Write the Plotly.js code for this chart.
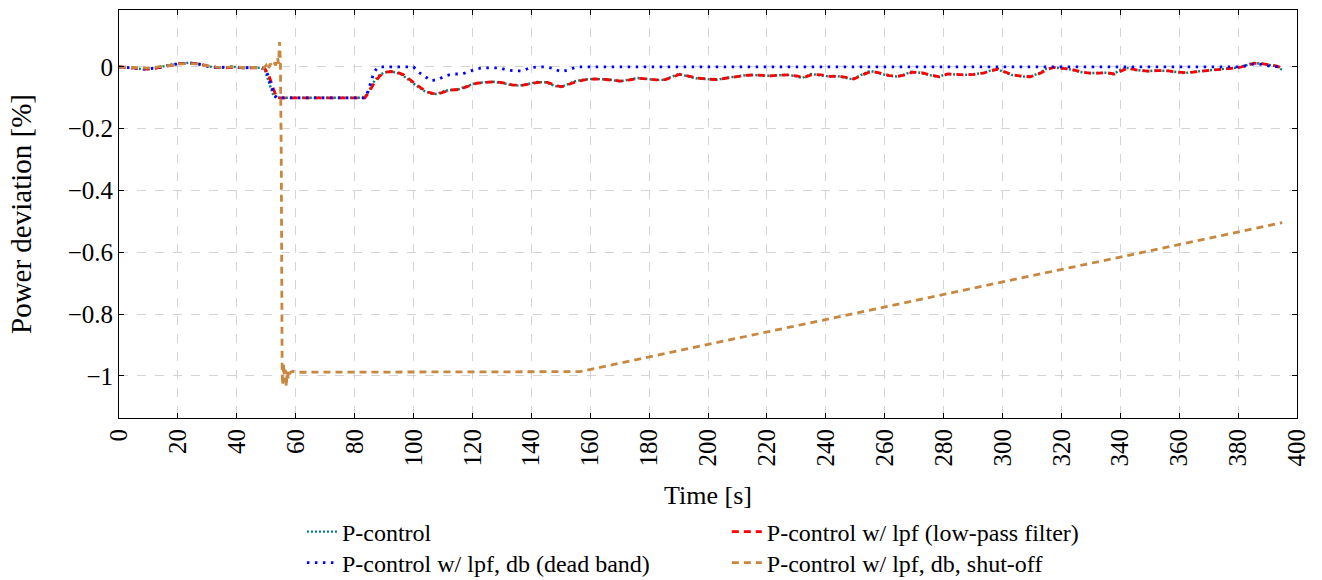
<!DOCTYPE html>
<html>
<head>
<meta charset="utf-8">
<script src="https://cdn.plot.ly/plotly-3.0.1.min.js"></script>
<style>html,body{margin:0;padding:0;background:#fff;}#chart{width:1322px;height:580px;}</style>
</head>
<body>
<div id="chart"></div>
<script>
// ---- data ----
const seriesNames = [
  "P-control",
  "P-control w/ lpf (low-pass filter)",
  "P-control w/ lpf, db (dead band)",
  "P-control w/ lpf, db, shut-off"
];

const tGreen = [0,3,6,9,12,15,18,21,24,27,30,33,36,39,42,45,48,49.5,50.5,51.5,52.5,53.5,60,70,83,84.5,86,88,90,92,94,96,98,100,102,104,106,108,110,112,115,118,121,124,127,130,133,136,139,142,145,148,150,152,155,158,161,164,167,170,173,176,179,182,185,188,190,193,196,200,203,206,209,212,215,218,221,224,227,230,232,235,238,241,244,247,249,252,255,258,261,264,266,269,272,275,278,281,284,287,290,293,296,298,300,303,306,309,312,315,317,320,323,326,329,332,335,337.5,340,342,345,349,352,356,359,362,365,368,372,376,380,383,385,388,391,393,395];
const vGreen = [0,-0.002,-0.006,-0.008,-0.005,0.002,0.008,0.012,0.013,0.010,0.002,-0.002,-0.003,0.000,-0.004,-0.002,-0.003,-0.010,-0.040,-0.070,-0.095,-0.100,-0.100,-0.100,-0.100,-0.085,-0.055,-0.030,-0.018,-0.015,-0.018,-0.025,-0.040,-0.055,-0.068,-0.080,-0.087,-0.088,-0.080,-0.075,-0.074,-0.063,-0.053,-0.050,-0.048,-0.052,-0.058,-0.061,-0.055,-0.049,-0.050,-0.062,-0.065,-0.058,-0.046,-0.041,-0.039,-0.040,-0.042,-0.047,-0.042,-0.036,-0.039,-0.042,-0.042,-0.030,-0.023,-0.030,-0.037,-0.040,-0.042,-0.036,-0.031,-0.028,-0.026,-0.028,-0.029,-0.027,-0.026,-0.030,-0.036,-0.023,-0.026,-0.031,-0.030,-0.036,-0.040,-0.026,-0.013,-0.020,-0.028,-0.031,-0.027,-0.016,-0.019,-0.026,-0.033,-0.023,-0.024,-0.026,-0.024,-0.020,-0.012,-0.006,-0.015,-0.026,-0.030,-0.033,-0.022,-0.006,-0.002,-0.005,-0.008,-0.016,-0.020,-0.020,-0.019,-0.024,-0.010,-0.003,-0.010,-0.014,-0.012,-0.013,-0.017,-0.020,-0.016,-0.013,-0.010,-0.006,-0.002,0.006,0.013,0.010,0.004,0.002,-0.010];

const tRed = [0,3,6,9,12,15,18,21,24,27,30,33,36,39,42,45,48,49.5,51,52,53,54,60,70,83.5,85,86.5,88.5,90.5,92.5,94.5,96.5,98.5,100.5,102.5,104.5,106.5,108.5,110.5,112.5,115.5,118.5,121.5,124.5,127.5,130.5,133.5,136.5,139.5,142.5,145.5,148.5,150.5,152.5,155.5,158.5,161.5,164.5,167.5,170.5,173.5,176.5,179.5,182.5,185.5,188.5,190.5,193.5,196.5,200.5,203.5,206.5,209.5,212.5,215.5,218.5,221.5,224.5,227.5,230.5,232.5,235.5,238.5,241.5,244.5,247.5,249.5,252.5,255.5,258.5,261.5,264.5,266.5,269.5,272.5,275.5,278.5,281.5,284.5,287.5,290.5,293.5,296.5,298.5,300.5,303.5,306.5,309.5,312.5,315.5,317.5,320.5,323.5,326.5,329.5,332.5,335.5,338,340.5,342.5,345.5,349.5,352.5,356.5,359.5,362.5,365.5,368.5,372.5,376.5,380.5,383.5,385.5,388.5,391.5,393.5,395];
const vRed = [0,-0.002,-0.005,-0.007,-0.005,0.001,0.007,0.011,0.012,0.010,0.003,-0.002,-0.003,-0.001,-0.003,-0.002,-0.003,-0.005,-0.030,-0.060,-0.085,-0.100,-0.100,-0.100,-0.100,-0.080,-0.055,-0.030,-0.017,-0.015,-0.018,-0.025,-0.040,-0.055,-0.068,-0.080,-0.086,-0.087,-0.080,-0.075,-0.073,-0.063,-0.053,-0.050,-0.048,-0.052,-0.058,-0.060,-0.055,-0.050,-0.050,-0.061,-0.064,-0.058,-0.047,-0.041,-0.039,-0.040,-0.042,-0.046,-0.042,-0.037,-0.039,-0.042,-0.041,-0.031,-0.024,-0.030,-0.036,-0.040,-0.041,-0.036,-0.031,-0.028,-0.026,-0.028,-0.029,-0.027,-0.026,-0.030,-0.035,-0.024,-0.026,-0.031,-0.030,-0.035,-0.039,-0.026,-0.014,-0.020,-0.028,-0.031,-0.027,-0.017,-0.019,-0.026,-0.032,-0.023,-0.024,-0.026,-0.024,-0.020,-0.012,-0.007,-0.015,-0.026,-0.030,-0.032,-0.022,-0.007,-0.002,-0.005,-0.008,-0.016,-0.020,-0.020,-0.019,-0.023,-0.011,-0.004,-0.010,-0.014,-0.012,-0.013,-0.017,-0.019,-0.016,-0.013,-0.010,-0.006,-0.002,0.006,0.012,0.010,0.005,0.002,-0.006];

const tBlue = [0,3,6,9,12,15,18,21,24,27,30,33,36,39,42,45,48,49.5,50.5,51.5,52.5,53.5,60,70,83.5,84.5,85.5,86.5,87.5,88.5,100,101.5,104,106,108.5,110.7,113.5,116.5,118.6,121.5,124,129,131.7,134.5,137,139.5,142.3,145,147.4,150,152.5,155.5,200,300,380,383,385.5,388,391,395];
const vBlue = [0,-0.002,-0.005,-0.007,-0.004,0.002,0.007,0.011,0.012,0.009,0.002,-0.002,-0.002,0,-0.003,-0.002,-0.002,-0.005,-0.025,-0.055,-0.085,-0.100,-0.100,-0.100,-0.100,-0.080,-0.050,-0.020,-0.005,0,0,-0.016,-0.032,-0.045,-0.040,-0.029,-0.023,-0.023,-0.016,-0.006,-0.003,-0.003,-0.010,-0.013,-0.013,-0.003,0,0,-0.005,-0.016,-0.010,0,0,0,0,0.004,0.010,0.008,0.002,0];

const tOrange = [0,3,6,9,12,15,18,21,24,27,30,33,36,39,42,45,48,49,50,50.7,51.3,52,52.6,53.2,53.8,54.2,54.5,54.8,55.1,55.4,55.6,55.9,56.2,56.5,56.8,57.1,57.5,58,59,60,156.5,395];
const vOrange = [0,-0.001,-0.003,-0.004,-0.002,0.002,0.006,0.010,0.011,0.009,0.003,-0.001,-0.002,0,-0.002,-0.001,-0.002,-0.005,0.005,-0.010,0.010,0.003,0.015,0.005,0.030,0.010,0.080,0.020,-0.300,-0.990,-1.030,-0.960,-1.020,-0.980,-1.035,-0.985,-1.010,-0.990,-0.985,-0.988,-0.986,-0.504];

const xTickVals = [0,20,40,60,80,100,120,140,160,180,200,220,240,260,280,300,320,340,360,380,400];
const yTickVals = [-1,-0.8,-0.6,-0.4,-0.2,0];
const yTickText = ["\u22121","\u22120.8","\u22120.6","\u22120.4","\u22120.2","0"];

const FONT = "'Liberation Serif', 'DejaVu Serif', serif";

const traces = [
  {x: tGreen, y: vGreen, name: seriesNames[0], mode: "lines", legend: "legend",
   line: {color: "#008080", width: 2.4, dash: "2px,2px"}},
  {x: tRed, y: vRed, name: seriesNames[1], mode: "lines", legend: "legend2",
   line: {color: "#ff0000", width: 2.8, dash: "7px,5px"}},
  {x: tBlue, y: vBlue, name: seriesNames[2], mode: "lines", legend: "legend3",
   line: {color: "#0000ff", width: 2.8, dash: "2.5px,5.5px"}},
  {x: tOrange, y: vOrange, name: seriesNames[3], mode: "lines", legend: "legend4",
   line: {color: "#c8873f", width: 2.8, dash: "7px,5px"}}
];

const axisCommon = {
  showline: true, linecolor: "#000", linewidth: 1, mirror: "ticks",
  ticks: "inside", ticklen: 5, tickcolor: "#000", tickwidth: 1,
  showgrid: true, gridcolor: "#d4d4d4", gridwidth: 1, griddash: "dash",
  zeroline: false, automargin: false,
  tickfont: {family: FONT, size: 25, color: "#000"}
};

function legendAt(x, y) {
  return {x: x, y: y, xanchor: "left", yanchor: "top", orientation: "v",
    bgcolor: "rgba(0,0,0,0)", font: {family: FONT, size: 24, color: "#000"}, tracegroupgap: 0};
}

const layout = {
  width: 1322, height: 580,
  margin: {l: 119, r: 25, t: 10, b: 162, autoexpand: false},
  paper_bgcolor: "#fff", plot_bgcolor: "#fff",
  font: {family: FONT, color: "#000"},
  showlegend: true,
  xaxis: Object.assign({}, axisCommon, {
    range: [0, 400], tickmode: "array", tickvals: xTickVals, tickangle: -90,
    title: {text: "Time [s]", font: {family: FONT, size: 26}, standoff: 20}
  }),
  yaxis: Object.assign({}, axisCommon, {
    range: [-1.136, 0.184], tickmode: "array", tickvals: yTickVals, ticktext: yTickText,
    title: {text: "Power deviation [%]", font: {family: FONT, size: 29}, standoff: 27}
  }),
  legend: legendAt(0.1553, -0.2243),
  legend2: legendAt(0.516, -0.2243),
  legend3: legendAt(0.1553, -0.3003),
  legend4: legendAt(0.516, -0.3003)
};

Plotly.newPlot("chart", traces, layout, {displayModeBar: false, staticPlot: true});
</script>
</body>
</html>
